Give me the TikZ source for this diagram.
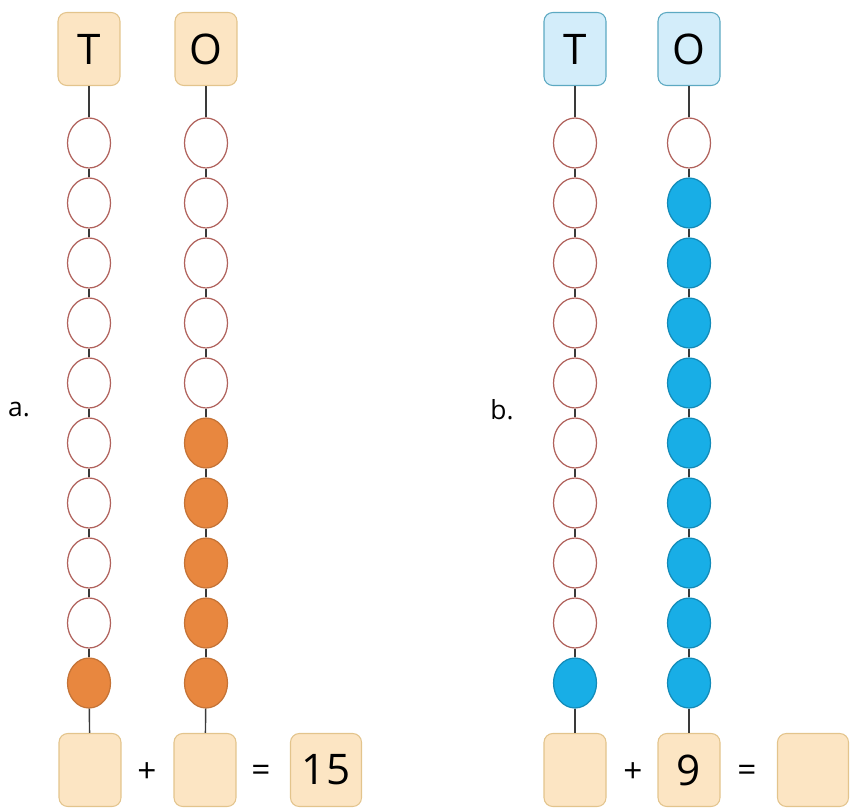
\documentclass[tikz,border=0pt]{standalone}
\usepackage{fontspec}
\setmainfont{Open Sans}
\usetikzlibrary{positioning,shapes.geometric}
\definecolor{beadline}{HTML}{B0625C}
\definecolor{beadorange}{HTML}{E8873F}
\definecolor{beadblue}{HTML}{18AEE6}
\definecolor{boxtan}{HTML}{FCE5C3}
\definecolor{boxtanline}{HTML}{E3C48C}
\definecolor{boxblue}{HTML}{D3EDFA}
\definecolor{boxblueline}{HTML}{5CA9C2}
\definecolor{rodgray}{HTML}{3A3A3A}

\begin{document}
\begin{tikzpicture}[x=0.02cm,y=-0.02cm,
    bead/.style={ellipse,inner sep=0pt,minimum width=0.86cm,minimum height=1cm,draw=beadline,line width=0.7pt,fill=white},
    orangebead/.style={bead,fill=beadorange,draw=beadorange!85!black},
    bluebead/.style={bead,fill=beadblue,draw=beadblue!80!black},
    tanbox/.style={rectangle,rounded corners=5pt,inner sep=0pt,minimum width=1.24cm,minimum height=1.46cm,fill=boxtan,draw=boxtanline,line width=0.6pt,font=\fontsize{24}{28}\selectfont},
    bluebox/.style={tanbox,fill=boxblue,draw=boxblueline},
    rod/.style={line width=0.8pt,draw=rodgray},
    sign/.style={font=\fontsize{19}{23}\selectfont}]
  \useasboundingbox (0,0) rectangle (854,810);

  % labels
  \node[font=\fontsize{15}{18}\selectfont] (alabel) at (19,410) {a.};
  \node[font=\fontsize{15}{18}\selectfont] (blabel) at (502,410) {b.};

  % top boxes
  \node[tanbox] (aT-top) at (89,49) {T};
  \node[tanbox] (aO-top) at (206,49) {O};
  \node[bluebox] (bT-top) at (575,49) {T};
  \node[bluebox] (bO-top) at (689,49) {O};

  % beads (\n filled from the bottom)
  \foreach \col/\x/\n/\kind in {aT/89/1/orangebead, aO/206/5/orangebead, bT/575/1/bluebead, bO/689/9/bluebead}{
    \pgfmathtruncatemacro{\fillfrom}{11-\n}
    \foreach \i in {1,...,10}{
      \ifnum\i<\fillfrom
        \node[bead] (\col-\i) at (\x,{143+60*(\i-1)}) {};
      \else
        \node[\kind] (\col-\i) at (\x,{143+60*(\i-1)}) {};
      \fi
    }
  }

  % bottom row
  \node[tanbox] (aT-bot) at (90,770) {};
  \node[sign] (aplus) at (147,773) {+};
  \node[tanbox] (aO-bot) at (205,770) {};
  \node[sign] (aeq) at (261,773) {=};
  \node[tanbox,minimum width=1.42cm] (asum) at (326,770) {15};

  \node[tanbox] (bT-bot) at (575,770) {};
  \node[sign] (bplus) at (633,773) {+};
  \node[tanbox] (bO-bot) at (689,770) {9};
  \node[sign] (beq) at (747,773) {=};
  \node[tanbox,minimum width=1.42cm] (bsum) at (813,770) {};

  % rods
  \foreach \col in {aT,aO,bT,bO}{
    \draw[rod] (\col-top) -- (\col-1);
    \foreach \i [evaluate=\i as \j using int(\i+1)] in {1,...,9}
      \draw[rod] (\col-\i) -- (\col-\j);
    \draw[rod] (\col-10) -- (\col-bot);
  }
\end{tikzpicture}
\end{document}
